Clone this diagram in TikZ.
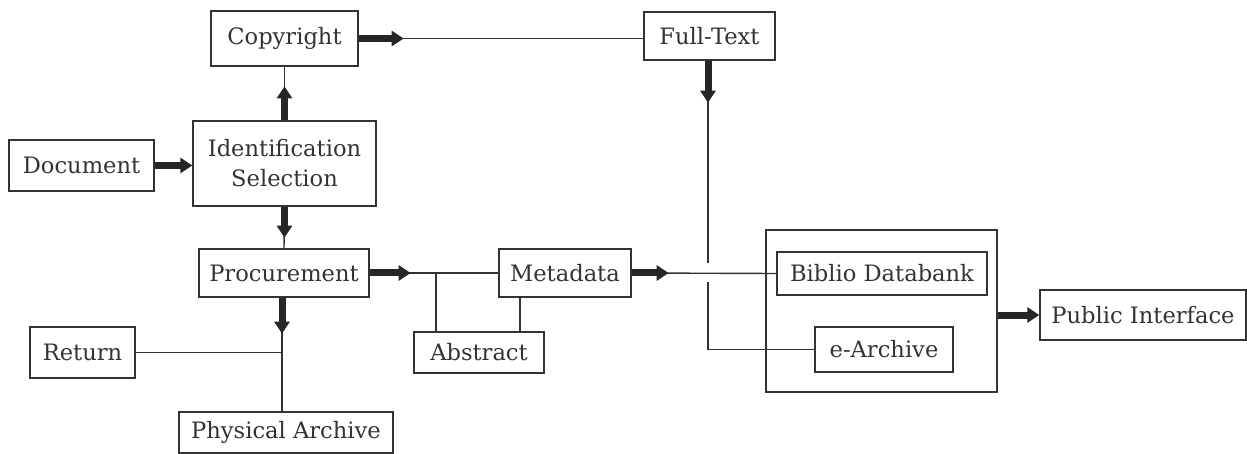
\documentclass[tikz,border=0pt]{standalone}
\usepackage{fontspec}
\setmainfont{DejaVu Serif}
\usetikzlibrary{arrows.meta}
\definecolor{ink}{HTML}{333333}
\definecolor{heavy}{HTML}{262626}
\begin{document}
\begin{tikzpicture}[x=1pt,y=-1pt,
  box/.style={draw=ink,line width=1.4pt,text=ink,inner sep=0pt,align=center,
              font=\fontsize{22.6}{30}\selectfont},
  link/.style={draw=ink,line width=1.4pt},
  flow/.style={draw=heavy,line width=7pt,-{Triangle[width=15pt,length=12pt]}},
  gap/.style={draw=white,line width=4pt}
]
\useasboundingbox (0,0) rectangle (1247,454);

% container for the two digital stores
\node[box,minimum width=231pt,minimum height=162pt] (big) at (881.5,311) {};

% boxes
\node[box,minimum width=147pt,minimum height=55pt] (cop) at (284.5,38.5) {Copyright};
\node[box,minimum width=131pt,minimum height=48pt] (ft)  at (709.5,36) {Full-Text};
\node[box,minimum width=145pt,minimum height=51pt] (doc) at (81.5,165.5) {Document};
\node[box,minimum width=183pt,minimum height=85pt] (id)  at (284.5,163.5) {Identification\\Selection};
\node[box,minimum width=170pt,minimum height=48pt] (proc) at (284,273) {Procurement};
\node[box,minimum width=132pt,minimum height=48pt] (meta) at (565,273) {Metadata};
\node[box,minimum width=130pt,minimum height=41pt] (ab)  at (479,352.5) {Abstract};
\node[box,minimum width=105pt,minimum height=51pt] (ret) at (82.5,352.5) {Return};
\node[box,minimum width=214pt,minimum height=41pt] (pa)  at (286,432.5) {Physical Archive};
\node[box,minimum width=210pt,minimum height=43pt] (bib) at (882,273.5) {Biblio Databank};
\node[box,minimum width=138pt,minimum height=45pt] (ea)  at (884,349.5) {e-Archive};
\node[box,minimum width=206pt,minimum height=50pt] (pub) at (1143,315) {Public Interface};

% thin connectors
\draw[link] (cop.east) -- (cop.east -| ft.west);
\draw[link] (id.north) -- (cop.south);
\draw[link] (id.south) -- (proc.north);
\draw[link] (proc.east) -- (meta.west);
\coordinate (j1) at (436,273);
\draw[link] (j1) -- (j1 |- ab.north);
\coordinate (j2) at (520,297);
\draw[link] (j2) -- (j2 |- ab.north);
\coordinate (pd) at ([xshift=-2pt]proc.south);
\draw[link] (pd) -- (pd |- pa.north);
\coordinate (rj) at (ret.east -| pd);
\draw[link] (ret.east) -- (rj);
\coordinate (fd) at ([xshift=-1.5pt]ft.south);
\draw[link] (fd) -- (fd |- ea.west) -- (ea.west);
% hop where the full-text line passes the metadata line
\draw[gap] ([yshift=-9.5pt]fd |- meta.east) -- ([yshift=9.5pt]fd |- meta.east);
\draw[link] (meta.east) -- (bib.west);

% heavy flow arrows
\draw[flow] (doc.east) -- (doc.east -| id.west);
\draw[flow] (id.north) -- ++(0,-34);
\draw[flow] (id.south) -- ++(0,31);
\draw[flow] (cop.east) -- ++(45,0);
\draw[flow] (fd) -- ++(0,42);
\draw[flow] (pd) -- ++(0,36);
\draw[flow] (proc.east) -- ++(41,0);
\draw[flow] (meta.east) -- ++(37,0);
\draw[flow] (big.east |- pub.west) -- (pub.west);
\end{tikzpicture}
\end{document}
